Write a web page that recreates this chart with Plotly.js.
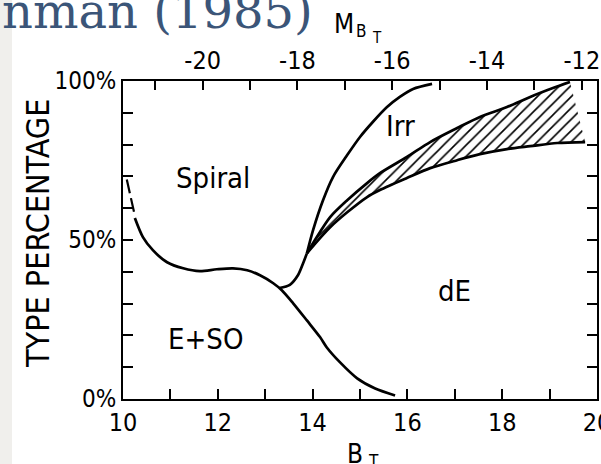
<!DOCTYPE html>
<html>
<head>
<meta charset="utf-8">
<script src="https://cdn.plot.ly/plotly-3.0.1.min.js"></script>
<style>
  html, body { margin: 0; padding: 0; background: #ffffff; }
  #chart { width: 601px; height: 464px; }
</style>
</head>
<body>
<div id="chart"></div>
<script>
// Morphological type fractions vs. apparent magnitude B_T (Virgo cluster)

// Spiral / E+S0 boundary: uncertain (dashed) bright end
const btSpiralDashed = [10.08, 10.16, 10.24];
const pctSpiralDashed = [69.0, 64.0, 58.3];

// Spiral / E+S0 boundary, continuing down to the faint end of E+S0
const btSpiralE = [10.25, 10.42, 10.63, 10.93, 11.27, 11.62, 11.98, 12.32, 12.62, 12.89, 13.17, 13.35, 13.59, 13.88, 14.16, 14.30, 14.58, 14.94, 15.32, 15.74];
const pctSpiralE = [56.9, 50.9, 46.8, 43.0, 41.1, 40.2, 40.8, 41.1, 40.5, 38.9, 36.4, 34.2, 30.1, 24.7, 19.4, 16.2, 11.5, 6.5, 3.3, 1.1];

// Rising dE boundary from the junction to the split point
const btRise = [13.30, 13.52, 13.69, 13.80, 13.88];
const pctRise = [34.9, 35.9, 38.9, 42.7, 45.8];

// Spiral / Irr boundary
const btIrr = [13.88, 14.01, 14.22, 14.43, 14.73, 15.00, 15.27, 15.57, 15.84, 16.12, 16.52];
const pctIrr = [45.8, 53.1, 62.5, 69.8, 76.7, 82.4, 87.1, 91.8, 95.0, 97.5, 99.1];

// Uncertain Irr / dE zone: upper and lower edges
const btBandTop = [13.88, 14.05, 14.37, 14.73, 15.15, 15.42, 15.99, 16.48, 17.05, 17.53, 18.10, 18.59, 19.07, 19.43];
const pctBandTop = [45.8, 50.0, 57.2, 62.5, 67.9, 71.0, 76.1, 80.8, 85.2, 88.7, 91.8, 95.0, 97.8, 99.7];
const btBandBottom = [13.88, 14.05, 14.37, 14.73, 15.15, 15.42, 15.99, 16.48, 17.05, 17.53, 18.10, 18.59, 19.16, 19.75];
const pctBandBottom = [45.8, 48.8, 54.0, 58.7, 63.5, 65.7, 69.5, 72.6, 75.1, 77.0, 78.6, 79.5, 80.5, 80.8];

// Axis ticks
const btTicks = [10, 11, 12, 13, 14, 15, 16, 17, 18, 19, 20];
const btTickText = ['10', '', '12', '', '14', '', '16', '', '18', '', '20'];
const magTicks = [-21, -20, -19, -18, -17, -16, -15, -14, -13, -12];
const magTickText = ['', '-20', '', '-18', '', '-16', '', '-14', '', '-12'];
const pctTicks = [0, 10, 20, 30, 40, 50, 60, 70, 80, 90, 100];
const pctTickText = ['0%', '', '', '', '', '50%', '', '', '', '', '100%'];

// Region labels
const regionNames = ['Spiral', 'E+SO', 'Irr', 'dE'];
const regionBt = [11.90, 11.75, 15.86, 17.0];
const regionPct = [69.5, 19.0, 86.0, 34.0];

const distanceModulus = 31.68;  // M_BT = B_T - distance modulus

const NARROW = '"DejaVu Sans Condensed", "Liberation Sans", sans-serif';
const INK = '#000000';
const curve = { color: INK, width: 2.7, shape: 'spline', smoothing: 0.8 };

const traces = [
  {
    // hatched uncertain zone
    x: btBandTop.concat(btBandBottom.slice().reverse()),
    y: pctBandTop.concat(pctBandBottom.slice().reverse()),
    mode: 'lines', fill: 'toself', fillcolor: 'rgba(255,255,255,0)',
    fillpattern: { shape: '/', fgcolor: INK, bgcolor: '#ffffff', size: 8, solidity: 0.2 },
    line: { width: 0 }, hoverinfo: 'skip'
  },
  { x: btSpiralDashed, y: pctSpiralDashed, mode: 'lines', line: { color: INK, width: 2.2, dash: '14px,5px' } },
  { x: btSpiralE, y: pctSpiralE, mode: 'lines', line: curve },
  { x: btRise, y: pctRise, mode: 'lines', line: curve },
  { x: btIrr, y: pctIrr, mode: 'lines', line: curve },
  { x: btBandTop, y: pctBandTop, mode: 'lines', line: curve },
  { x: btBandBottom, y: pctBandBottom, mode: 'lines', line: curve },
  // absolute-magnitude scale on the top axis
  { x: [btTicks[0] - distanceModulus], y: [0], xaxis: 'x2', mode: 'markers',
    marker: { opacity: 0 }, hoverinfo: 'skip' }
];

const axisCommon = {
  showline: true, linecolor: INK, linewidth: 2,
  ticks: 'inside', tickcolor: INK, tickwidth: 2,
  showgrid: false, zeroline: false, fixedrange: true,
  ticklabeloverflow: 'allow'
};

const PW = 474, PH = 318, L = 123, T = 81;
const px = v => (v - L) / PW;          // pixel column -> paper x
const py = v => (T + PH - v) / PH;     // pixel row -> paper y

const annotations = regionNames.map((name, i) => ({
  x: regionBt[i], y: regionPct[i], xref: 'x', yref: 'y', text: name, showarrow: false,
  xanchor: 'center', yanchor: 'middle',
  font: { family: NARROW, size: 29, color: INK }
}));

function label(text, cx, cy, size, extra) {
  return Object.assign({
    x: px(cx), y: py(cy), xref: 'paper', yref: 'paper', text: text, showarrow: false,
    xanchor: 'center', yanchor: 'middle', font: { family: NARROW, size: size, color: INK }
  }, extra || {});
}

annotations.push(
  label('nman (1985)', 0, 11, 48, {
    xanchor: 'left',
    font: { family: '"DejaVu Serif", "Liberation Serif", serif', size: 48, color: '#3b5578' }
  }),
  label('TYPE PERCENTAGE', 38, 234, 32, { textangle: -90 }),
  label('M', 344, 24, 26),
  label('B', 361.5, 31, 17),
  label('T', 376.5, 38, 15),
  label('B', 355, 454, 26),
  label('T', 373, 461, 17)
);

const layout = {
  width: 601, height: 464,
  margin: { l: L, r: 4, t: T, b: 464 - T - PH, pad: 0 },
  paper_bgcolor: '#ffffff', plot_bgcolor: '#ffffff',
  showlegend: false,
  xaxis: Object.assign({}, axisCommon, {
    range: [10, 20], tickmode: 'array', tickvals: btTicks, ticktext: btTickText,
    ticklen: 10, tickfont: { family: NARROW, size: 25, color: INK }
  }),
  xaxis2: Object.assign({}, axisCommon, {
    overlaying: 'x', side: 'top', anchor: 'y',
    range: [10 - distanceModulus, 20 - distanceModulus],
    tickmode: 'array', tickvals: magTicks, ticktext: magTickText,
    ticklen: 9, tickfont: { family: NARROW, size: 25, color: INK }
  }),
  yaxis: Object.assign({}, axisCommon, {
    range: [0, 100], tickmode: 'array', tickvals: pctTicks, ticktext: pctTickText,
    ticklen: 10, mirror: 'ticks', tickfont: { family: NARROW, size: 24, color: INK }
  }),
  shapes: [
    { type: 'rect', xref: 'paper', yref: 'paper', layer: 'below',
      x0: px(0), x1: px(12), y0: py(464), y1: py(0),
      fillcolor: '#f0efec', line: { width: 0 } }
  ],
  annotations: annotations
};

Plotly.newPlot('chart', traces, layout, { displayModeBar: false, staticPlot: true });
</script>
</body>
</html>
